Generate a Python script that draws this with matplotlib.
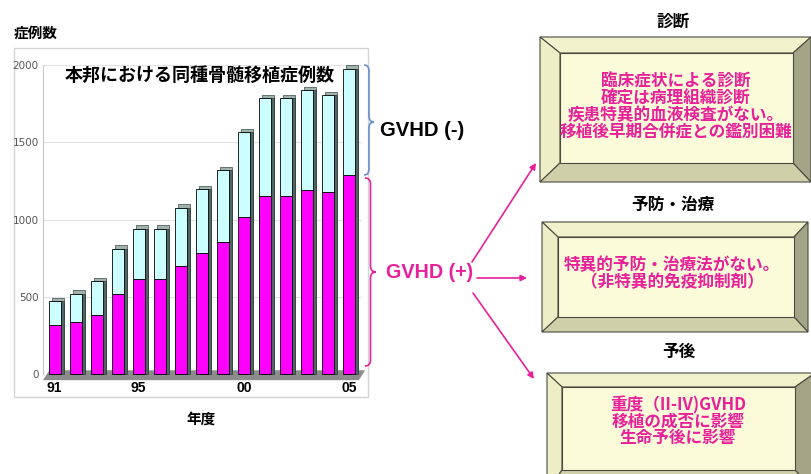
import numpy as np
import matplotlib
matplotlib.use("Agg")
import matplotlib.pyplot as plt
from matplotlib.patches import Polygon, Rectangle, PathPatch
from matplotlib.path import Path
from matplotlib.transforms import ScaledTranslation

plt.rcParams['font.family'] = ['Noto Sans CJK JP', 'DejaVu Sans']

# --- data ---
years = [1991, 1992, 1993, 1994, 1995, 1996, 1997, 1998, 1999, 2000, 2001, 2002, 2003, 2004, 2005]
total = [470, 520, 600, 810, 940, 940, 1075, 1195, 1320, 1565, 1785, 1785, 1835, 1805, 1975]
gvhd_pos = [315, 335, 385, 520, 615, 615, 700, 780, 855, 1015, 1155, 1155, 1190, 1175, 1290]
gvhd_neg = [t - p for t, p in zip(total, gvhd_pos)]
xtick_years = [1991, 1995, 2000, 2005]
xtick_labels = ['91', '95', '00', '05']
yticks = [0, 500, 1000, 1500, 2000]

chart_title = '本邦における同種骨髄移植症例数'
box_titles = ['診断', '予防・治療', '予後']
box_lines = [
    ['臨床症状による診断', '確定は病理組織診断', '疾患特異的血液検査がない。', '移植後早期合併症との鑑別困難'],
    ['特異的予防・治療法がない。', '（非特異的免疫抑制剤）'],
    ['重度（II-IV)GVHD', '移植の成否に影響', '生命予後に影響'],
]

W, H = 811, 474
fig = plt.figure(figsize=(W / 100, H / 100), dpi=100)
fig.patch.set_facecolor('white')

# overlay in pixel coordinates for the diagram parts
ov = fig.add_axes([0, 0, 1, 1], zorder=0)
ov.set_xlim(0, W)
ov.set_ylim(H, 0)
ov.axis('off')

magenta = '#e8209a'

# chart frame
ov.add_patch(Rectangle((14, 48), 354, 349, fill=False, ec='#d4d4d4', lw=1))

# --- bar chart ---
ax = fig.add_axes([43 / W, (H - 374) / H, 319 / W, 309 / H], zorder=2)
ax.patch.set_alpha(0)
ax.set_xlim(1990.45, 2005.62)
ax.set_ylim(0, 2000)
for s in ax.spines.values():
    s.set_visible(False)
ax.spines['left'].set_visible(True)
ax.spines['left'].set_color('#c8c8c8')
ax.spines['left'].set_linewidth(0.8)
ax.yaxis.grid(True, color='#e2e2e2', lw=0.8)
ax.set_axisbelow(True)

bw = 0.57
dx, dy = 0.035, 0.035
top_tr = ax.transData + ScaledTranslation(dx, dy, fig.dpi_scale_trans)
side_tr = ax.transData + ScaledTranslation(dx, 0, fig.dpi_scale_trans)
ax.bar(years, total, bw, color='#9fb2ac', ec='#3a4a48', lw=0.5, transform=top_tr, zorder=2, clip_on=False)
ax.bar(years, total, bw, color='#4f6664', ec='#2a3838', lw=0.5, transform=side_tr, zorder=3, clip_on=False)
ax.bar(years, gvhd_pos, bw, color='#ff00ff', ec='black', lw=0.6, zorder=4, clip_on=False)
ax.bar(years, gvhd_neg, bw, bottom=gvhd_pos, color='#ccffff', ec='black', lw=0.6, zorder=4, clip_on=False)

# floor
ax.add_patch(Polygon([(0, -0.02), (0.99, -0.02), (1.01, 0.012), (0.02, 0.012)],
                     closed=True, transform=ax.transAxes, fc='#8c8c8c', ec='none', zorder=1, clip_on=False))

ax.set_yticks(yticks)
ax.set_yticklabels([str(v) for v in yticks], family=['Liberation Sans Narrow', 'DejaVu Sans'],
                   fontsize=7.5, color='#555555')
ax.tick_params(axis='y', length=0, pad=3)
ax.set_xticks(xtick_years)
ax.set_xticklabels(xtick_labels, fontsize=10, fontweight='bold', family=['Liberation Sans', 'DejaVu Sans'])
ax.tick_params(axis='x', length=0, pad=5)

ov.text(14, 33, '症例数', fontsize=10.5, fontweight='bold', ha='left', va='center')
ov.text(201, 419, '年度', fontsize=10.5, fontweight='bold', ha='center', va='center')
ax.text(0.49, 0.966, chart_title, transform=ax.transAxes, fontsize=13, fontweight='bold',
        ha='center', va='center', zorder=6)


# --- braces ---
def brace(x0, y0, y1, ymid, w, color):
    xm = x0 + w * 0.5
    r = 6
    verts = [(x0, y0), (xm, y0), (xm, y0 + r),
             (xm, ymid - r),
             (xm, ymid), (x0 + w, ymid),
             (xm, ymid), (xm, ymid + r),
             (xm, y1 - r),
             (xm, y1), (x0, y1)]
    codes = [Path.MOVETO, Path.CURVE3, Path.CURVE3,
             Path.LINETO,
             Path.CURVE3, Path.CURVE3,
             Path.CURVE3, Path.CURVE3,
             Path.LINETO,
             Path.CURVE3, Path.CURVE3]
    ov.add_patch(PathPatch(Path(verts, codes), fill=False, ec=color, lw=1.2, zorder=3))


brace(364, 65, 175, 122, 10, '#6a8ccc')
brace(365, 178, 366, 272, 11, magenta)

ov.text(380, 130, 'GVHD (-)', fontsize=14.6, fontweight='bold', color='black',
        family=['Liberation Sans', 'DejaVu Sans'], ha='left', va='center')
ov.text(386, 273, 'GVHD (+)', fontsize=14.2, fontweight='bold', color=magenta,
        family=['Liberation Sans', 'DejaVu Sans'], ha='left', va='center')

# arrows
for (sx, sy), (ex, ey) in [((472, 262), (536, 163)), ((477, 278), (527, 278)), ((473, 293), (534, 379))]:
    ov.annotate('', xy=(ex, ey), xytext=(sx, sy),
                arrowprops=dict(arrowstyle='-|>', color=magenta, lw=1.2, mutation_scale=9,
                                shrinkA=0, shrinkB=0))


# --- bevelled boxes ---
def bevel_box(outer, inner):
    ox0, oy0, ox1, oy1 = outer
    ix0, iy0, ix1, iy1 = inner
    ec = '#4a4a40'
    faces = [
        ([(ox0, oy0), (ox1, oy0), (ix1, iy0), (ix0, iy0)], '#f2f2cc'),
        ([(ox0, oy0), (ix0, iy0), (ix0, iy1), (ox0, oy1)], '#eeeec6'),
        ([(ox1, oy0), (ox1, oy1), (ix1, iy1), (ix1, iy0)], '#a4a486'),
        ([(ox0, oy1), (ox1, oy1), (ix1, iy1), (ix0, iy1)], '#cfcfaa'),
        ([(ix0, iy0), (ix1, iy0), (ix1, iy1), (ix0, iy1)], '#fbfbd9'),
    ]
    for pts, c in faces:
        ov.add_patch(Polygon(pts, closed=True, fc=c, ec=ec, lw=0.8, zorder=2))


boxes = [
    ((540, 37, 811, 182), (560, 53, 793, 163), 22, [81.5, 98.2, 115, 131.8], 676),
    ((542, 222, 808, 332), (558, 237, 794, 317), 205, [265.5, 282], 672),
    ((547, 373, 815, 492), (562, 387, 795, 470), 352, [405, 421.5, 438], 678),
]
for (outer, inner, ty, lys, cx), title, lines in zip(boxes, box_titles, box_lines):
    bevel_box(outer, inner)
    ov.text((outer[0] + outer[2]) / 2 - 2, ty, title, fontsize=12, fontweight='bold',
            ha='center', va='center', zorder=4)
    for ly, line in zip(lys, lines):
        ov.text(cx, ly, line, fontsize=12, fontweight='bold', color=magenta,
                ha='center', va='center', zorder=4)

fig.savefig('out.png', dpi=100)
